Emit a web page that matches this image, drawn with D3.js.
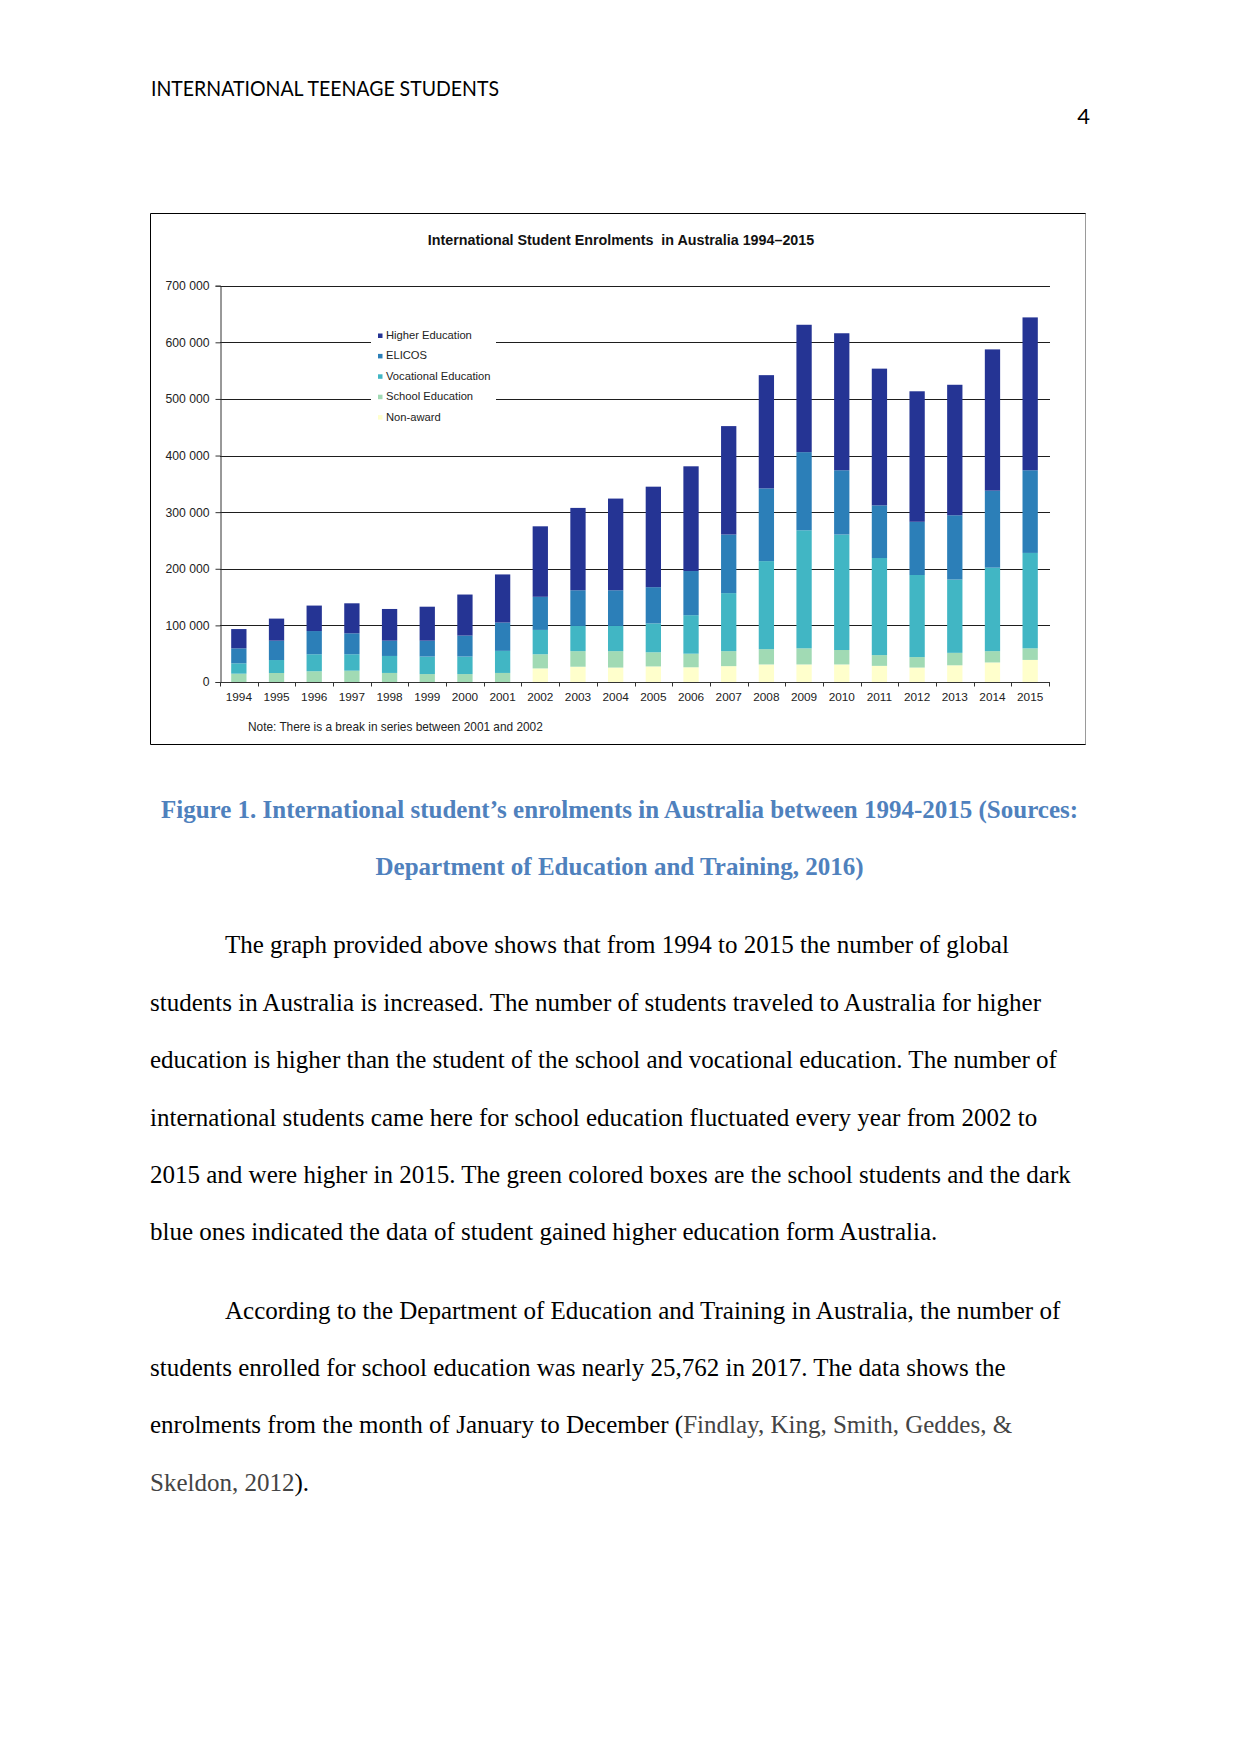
<!DOCTYPE html>
<html>
<head>
<meta charset="utf-8">
<script src="https://cdn.jsdelivr.net/npm/d3@7"></script>
<style>
  html, body { margin: 0; padding: 0; background: #fff; }
  svg { display: block; }
</style>
</head>
<body>
<svg id="page" width="1241" height="1754"></svg>
<script>
// ---------------- DATA ----------------
const years = ["1994","1995","1996","1997","1998","1999","2000","2001","2002","2003","2004",
               "2005","2006","2007","2008","2009","2010","2011","2012","2013","2014","2015"];
const nonAward   = [0,0,0,0,0,0,0,0,24000,27000,25500,27500,26000,28000,31000,31000,31000,28500,25500,29500,34500,39000];
const school     = [14700,15900,19000,20000,16000,14000,14000,16000,25000,27500,29000,25000,24000,26500,27000,28500,25500,19000,18500,22000,20000,20500];
const vocational = [18300,22900,30000,29000,30000,31000,31000,39000,43000,44500,44500,51000,68000,102500,155500,208500,204000,171500,145000,129500,147500,168500];
const elicos     = [26500,34200,41000,37000,27000,28000,37000,50000,58500,63000,63000,64000,78000,103500,128500,138000,113500,93000,94000,113500,136000,146000];
const higher     = [34000,39000,45000,53000,56000,60000,72500,85000,124500,145500,162000,177500,185000,191500,200000,225000,242000,241500,230500,230500,249500,270000];
const seriesKeys   = ["nonAward","school","vocational","elicos","higher"];
const seriesLabels = ["Non-award","School Education","Vocational Education","ELICOS","Higher Education"];
const yTickValues  = [0,100000,200000,300000,400000,500000,600000,700000];

const chartTitle = "International Student Enrolments  in Australia 1994\u20132015";
const noteText = "Note: There is a break in series between 2001 and 2002";

// ---------------- PAGE ----------------
const svg = d3.select("#page");
svg.append("rect").attr("width",1241).attr("height",1754).attr("fill","#fff");

svg.append("text").attr("x",151).attr("y",96)
  .attr("font-family","Lato, 'Open Sans', sans-serif").attr("font-size",22)
  .attr("textLength",348).attr("lengthAdjust","spacingAndGlyphs")
  .attr("fill","#000").text("INTERNATIONAL TEENAGE STUDENTS");
svg.append("text").attr("x",1090).attr("y",124).attr("text-anchor","end")
  .attr("font-family","Lato, 'Open Sans', sans-serif").attr("font-size",22)
  .attr("fill","#000").text("4");

// ---------------- CHART ----------------
const colors = {nonAward:"#ffffcc", school:"#a1dab4", vocational:"#41b6c4", elicos:"#2c7fb8", higher:"#253494"};
const F = "'Liberation Sans', Arial, sans-serif";

// frame
svg.append("line").attr("x1",150.5).attr("x2",1086).attr("y1",213.5).attr("y2",213.5).attr("stroke","#000");
svg.append("line").attr("x1",150.5).attr("x2",150.5).attr("y1",213.5).attr("y2",744.5).attr("stroke","#000");
svg.append("line").attr("x1",150.5).attr("x2",1086).attr("y1",744.5).attr("y2",744.5).attr("stroke","#000");
svg.append("line").attr("x1",1085.5).attr("x2",1085.5).attr("y1",213.5).attr("y2",744.5).attr("stroke","#9a9a9a");

svg.append("text").attr("x",621).attr("y",245).attr("text-anchor","middle")
  .attr("font-family",F).attr("font-weight","bold").attr("font-size",14.3)
  .attr("fill","#111").style("white-space","pre").text(chartTitle);

const x = d3.scaleBand().domain(years).range([220,1049]).paddingInner(0.594).paddingOuter(0.297);
const y = d3.scaleLinear().domain([0,700000]).range([682,285.7]);

// gridlines
svg.append("g").selectAll("line").data(yTickValues.filter(d=>d>0)).join("line")
  .attr("x1",220).attr("x2",1050)
  .attr("y1",d=>Math.round(y(d))+0.5).attr("y2",d=>Math.round(y(d))+0.5)
  .attr("stroke","#1e1e1e").attr("stroke-width",1);

// legend background (hides gridlines)
svg.append("rect").attr("x",371).attr("y",326).attr("width",125).attr("height",104).attr("fill","#fff");

// stacked bars
const rows = years.map((yr,i)=>({year:yr, nonAward:nonAward[i], school:school[i], vocational:vocational[i], elicos:elicos[i], higher:higher[i]}));
const stacked = d3.stack().keys(seriesKeys)(rows);
svg.append("g").selectAll("g").data(stacked).join("g")
  .attr("fill",d=>colors[d.key])
  .selectAll("rect").data(d=>d).join("rect")
  .attr("x",d=>x(d.data.year)).attr("width",x.bandwidth())
  .attr("y",d=>y(d[1])).attr("height",d=>Math.max(0,y(d[0])-y(d[1])));

// y axis
const fmt = d3.formatLocale({decimal:".", thousands:"\u00a0", grouping:[3], currency:["",""]}).format(",");
const yAxis = svg.append("g").attr("transform","translate(220.5,0)")
  .call(d3.axisLeft(y).tickValues(yTickValues).tickFormat(d=>fmt(d).replace(/\u00a0/g," ")).tickSizeOuter(0).tickSize(5).tickPadding(6));
yAxis.select(".domain").attr("stroke","#333");
yAxis.selectAll(".tick line").attr("stroke","#333");
yAxis.selectAll(".tick text").attr("font-family",F).attr("font-size",12.2).attr("fill","#222")
  .style("white-space","pre");

// x axis
const xAxisG = svg.append("g").attr("transform","translate(0,682.5)");
xAxisG.append("line").attr("x1",220).attr("x2",1050).attr("y1",0).attr("y2",0).attr("stroke","#333");
const boundaries = d3.range(years.length + 1).map(i => x.range()[0] + i*x.step());
xAxisG.selectAll("line.tk").data(boundaries).join("line").attr("class","tk")
  .attr("x1",d=>Math.round(d)+0.5).attr("x2",d=>Math.round(d)+0.5).attr("y1",0).attr("y2",4)
  .attr("stroke","#333");
xAxisG.selectAll("text").data(years).join("text")
  .attr("x",d=>x(d)+x.bandwidth()/2).attr("y",18).attr("text-anchor","middle")
  .attr("font-family",F).attr("font-size",11.8).attr("fill","#222").text(d=>d);

// legend
const legendOrder = [4,3,2,1,0];
const lg = svg.append("g");
legendOrder.forEach((k,j)=>{
  const yy = 339 + j*20.4;
  lg.append("rect").attr("x",378).attr("y",yy-5.5).attr("width",4.5).attr("height",4.5).attr("fill",colors[seriesKeys[k]]);
  lg.append("text").attr("x",386).attr("y",yy).attr("font-family",F).attr("font-size",11.2)
    .attr("fill","#222").text(seriesLabels[k]);
});

// note
svg.append("text").attr("x",248).attr("y",731).attr("font-family",F).attr("font-size",11.85)
  .attr("fill","#222").text(noteText);

// ---------------- CAPTION & BODY ----------------
const serif = "'Liberation Serif', 'Times New Roman', serif";
const capColor = "#4f81bd";
svg.append("text").attr("x",619.5).attr("y",818).attr("text-anchor","middle")
  .attr("font-family",serif).attr("font-weight","bold").attr("font-size",25).attr("fill",capColor)
  .text("Figure 1. International student\u2019s enrolments in Australia between 1994-2015 (Sources:");
svg.append("text").attr("x",619.5).attr("y",875).attr("text-anchor","middle")
  .attr("font-family",serif).attr("font-weight","bold").attr("font-size",25).attr("fill",capColor)
  .text("Department of Education and Training, 2016)");

const p1 = [
  "The graph provided above shows that from 1994 to 2015 the number of global",
  "students in Australia is increased. The number of students traveled to Australia for higher",
  "education is higher than the student of the school and vocational education. The number of",
  "international students came here for school education fluctuated every year from 2002 to",
  "2015 and were higher in 2015. The green colored boxes are the school students and the dark",
  "blue ones indicated the data of student gained higher education form Australia."
];
p1.forEach((t,i)=>{
  svg.append("text").attr("x", i===0 ? 225 : 150).attr("y",953.3 + i*57.4)
    .attr("font-family",serif).attr("font-size",25).attr("fill","#000").text(t);
});
const p2y = 1318.6;
svg.append("text").attr("x",225).attr("y",p2y).attr("font-family",serif).attr("font-size",25).attr("fill","#000")
  .text("According to the Department of Education and Training in Australia, the number of");
svg.append("text").attr("x",150).attr("y",p2y+57.4).attr("font-family",serif).attr("font-size",25).attr("fill","#000")
  .text("students enrolled for school education was nearly 25,762 in 2017. The data shows the");
const l3 = svg.append("text").attr("x",150).attr("y",p2y+2*57.4).attr("font-family",serif).attr("font-size",25).attr("fill","#000");
l3.append("tspan").text("enrolments from the month of January to December (");
l3.append("tspan").attr("fill","#444").text("Findlay, King, Smith, Geddes, &");
const l4 = svg.append("text").attr("x",150).attr("y",p2y+3*57.4).attr("font-family",serif).attr("font-size",25).attr("fill","#000");
l4.append("tspan").attr("fill","#444").text("Skeldon, 2012");
l4.append("tspan").text(").");
</script>
</body>
</html>
